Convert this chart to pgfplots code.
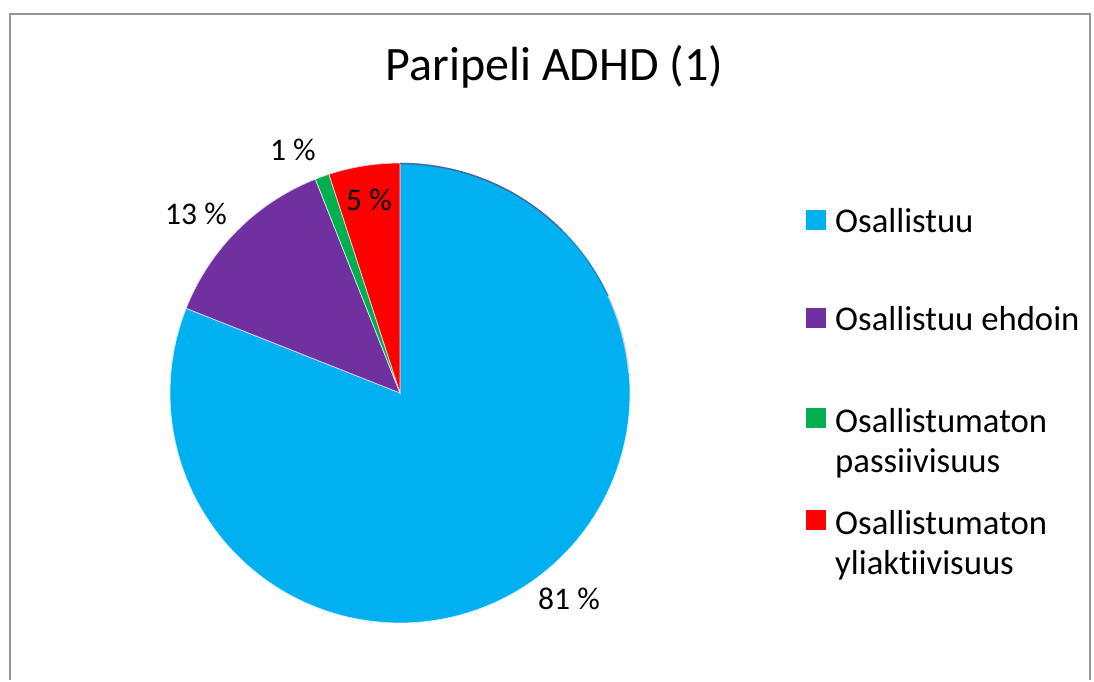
\documentclass[border=0pt]{standalone}
\usepackage{fontspec}
\setmainfont{Carlito}[Ligatures={NoCommon,NoDiscretionary}]
\usepackage{pgfplots}
\usepackage{pgfplotstable}
\pgfplotsset{compat=1.18}

\definecolor{cBlue}{HTML}{00B0F0}
\definecolor{cPurple}{HTML}{7030A0}
\definecolor{cGreen}{HTML}{00B050}
\definecolor{cRed}{HTML}{FF0000}
\definecolor{frame}{HTML}{959595}
\definecolor{rim}{HTML}{44679A}

% shares in percent, in the order the slices run clockwise from 12 o'clock
\pgfplotstableread{
share
81
13
1
5
}\piedata

\newcommand{\twoline}[2]{\raisebox{0pt}[\height][0pt]{\begin{tabular}[t]{@{}l@{}}#1\\#2\end{tabular}}}

\begin{document}
\begin{tikzpicture}
\pgfplotstablegetelem{0}{share}\of\piedata \let\sA\pgfplotsretval
\pgfplotstablegetelem{1}{share}\of\piedata \let\sB\pgfplotsretval
\pgfplotstablegetelem{2}{share}\of\piedata \let\sC\pgfplotsretval
\pgfplotstablegetelem{3}{share}\of\piedata \let\sD\pgfplotsretval
\pgfmathsetmacro\aA{90}
\pgfmathsetmacro\aB{\aA-3.6*\sA}
\pgfmathsetmacro\aC{\aB-3.6*\sB}
\pgfmathsetmacro\aD{\aC-3.6*\sC}
\pgfmathsetmacro\aE{\aD-3.6*\sD}
\begin{axis}[
  scale only axis, width=1094pt, height=680pt,
  xmin=0, xmax=1094, ymin=0, ymax=680,
  hide axis, clip=false,
  samples=160,
  legend cell align=left,
  legend image code/.code={\fill[#1,draw=none] (0pt,-9pt) rectangle (20pt,11pt);},
  legend style={at={(axis cs:806,472)}, anchor=north west, draw=none, fill=none,
    font=\fontsize{34.7}{40}\selectfont, row sep=72.5pt, column sep=0pt,
    inner sep=0pt, nodes={inner sep=0pt, outer sep=0pt},
    /tikz/every odd column/.append style={column sep=9pt}},
]
% page frame
\path (axis cs:0,0) rectangle (axis cs:1094,680);
\draw[frame, line width=2pt] (axis cs:9.5,0) -- (axis cs:9.5,666) -- (axis cs:1089.5,666) -- (axis cs:1089.5,0);

\addplot[fill=cBlue, draw=white!80!cBlue, line width=0.7pt, domain=\aB:\aA]
  ({400+230*cos(x)},{287+230*sin(x)}) -- (axis cs:400,287) -- cycle;
\addlegendentry{Osallistuu}
\addplot[fill=cPurple, draw=white!80!cPurple, line width=0.7pt, domain=\aC:\aB]
  ({400+230*cos(x)},{287+230*sin(x)}) -- (axis cs:400,287) -- cycle;
\addlegendentry{Osallistuu ehdoin}
\addplot[fill=cGreen, draw=white!80!cGreen, line width=0.7pt, domain=\aD:\aC]
  ({400+230*cos(x)},{287+230*sin(x)}) -- (axis cs:400,287) -- cycle;
\addlegendentry{\twoline{Osallistumaton}{passiivisuus}}
\addplot[fill=cRed, draw=white!80!cRed, line width=0.7pt, domain=\aE:\aD]
  ({400+230*cos(x)},{287+230*sin(x)}) -- (axis cs:400,287) -- cycle;
\addlegendentry{\twoline{Osallistumaton}{yliaktiivisuus}}

% shaded rim along the upper right of the large slice, fading downwards
\addplot[forget plot, draw=rim, line width=1.4pt, domain=45:90, samples=60]
  ({400+229.5*cos(x)},{287+229.5*sin(x)});
\addplot[forget plot, draw=rim!60!cBlue, line width=1.2pt, domain=25:45, samples=30]
  ({400+229.5*cos(x)},{287+229.5*sin(x)});
\addplot[forget plot, draw=rim!30!white, line width=1pt, domain=5:25, samples=30]
  ({400+229.5*cos(x)},{287+229.5*sin(x)});

% title and slice labels
\node[anchor=base, font=\fontsize{48}{58}\selectfont] at (axis cs:554.4,599.3) {Paripeli ADHD (1)};
\begin{scope}[every node/.style={anchor=base, font=\fontsize{31.5}{37}\selectfont}]
\node at (axis cs:569,71) {\sA\ \%};
\node at (axis cs:196,455) {\sB\ \%};
\node at (axis cs:292.8,519) {\sC\ \%};
\node at (axis cs:369,469.3) {\sD\ \%};
\end{scope}
\end{axis}
\end{tikzpicture}
\end{document}
